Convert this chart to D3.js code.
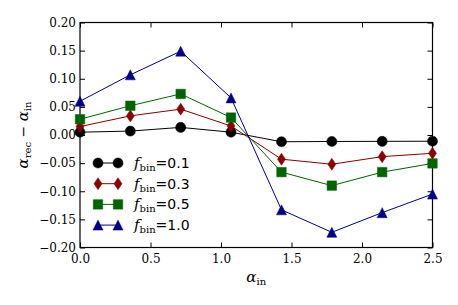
<!DOCTYPE html>
<html>
<head>
<meta charset="utf-8">
<script src="https://cdn.jsdelivr.net/npm/d3@7"></script>
<style>
  body { margin: 0; background: #fff; }
  .tick text { font-family: "DejaVu Serif", serif; font-size: 12px; fill: #000; }
</style>
</head>
<body>
<div class="canva"></div>
<script>
// data
const alphaIn = [0, 0.357, 0.714, 1.071, 1.429, 1.786, 2.143, 2.5];
const fbin01 = [0.005, 0.007, 0.0135, 0.005, -0.012, -0.0115, -0.0113, -0.011];
const fbin03 = [0.015, 0.034, 0.046, 0.016, -0.043, -0.052, -0.0385, -0.0325];
const fbin05 = [0.028, 0.052, 0.073, 0.031, -0.066, -0.090, -0.066, -0.0505];
const fbin10 = [0.060, 0.107, 0.149, 0.066, -0.133, -0.173, -0.138, -0.105];
const seriesLabels = ['0.1', '0.3', '0.5', '1.0'];
const xTicks = [0, 0.5, 1.0, 1.5, 2.0, 2.5];
const yTicks = [-0.20, -0.15, -0.10, -0.05, 0, 0.05, 0.10, 0.15, 0.20];

const series = [
  { label: seriesLabels[0], values: fbin01, color: '#000000', marker: 'circle' },
  { label: seriesLabels[1], values: fbin03, color: '#8b0000', marker: 'diamond' },
  { label: seriesLabels[2], values: fbin05, color: '#006400', marker: 'square' },
  { label: seriesLabels[3], values: fbin10, color: '#00008b', marker: 'triangle' }
];

const width = 458, height = 305;
const margin = { top: 22.5, right: 25.5, bottom: 57.5, left: 80 };
const graphWidth = width - margin.left - margin.right;
const graphHeight = height - margin.top - margin.bottom;

const svg = d3.select('.canva').append('svg')
    .attr('width', width)
    .attr('height', height);

const graph = svg.append('g')
    .attr('transform', `translate(${margin.left}, ${margin.top})`);

const x = d3.scaleLinear().domain([0, 2.5]).range([0, graphWidth]);
const y = d3.scaleLinear().domain([-0.2, 0.2]).range([graphHeight, 0]);

const fmt = d => d3.format('.1f')(d);
const fmtY = d => d3.format('.2f')(d).replace('-', '\u2212');

// axes, ticks pointing inward on all four sides
graph.append('g')
    .attr('transform', `translate(0, ${graphHeight})`)
    .call(d3.axisBottom(x).tickValues(xTicks).tickFormat(fmt).tickSizeInner(-5).tickSizeOuter(0).tickPadding(7));
graph.append('g')
    .call(d3.axisTop(x).tickValues(xTicks).tickFormat('').tickSizeInner(-5).tickSizeOuter(0));
graph.append('g')
    .call(d3.axisLeft(y).tickValues(yTicks).tickFormat(fmtY).tickSizeInner(-5).tickSizeOuter(0).tickPadding(4));
graph.append('g')
    .attr('transform', `translate(${graphWidth}, 0)`)
    .call(d3.axisRight(y).tickValues(yTicks).tickFormat('').tickSizeInner(-5).tickSizeOuter(0));

graph.selectAll('.domain').remove();
graph.selectAll('.tick line').attr('stroke', '#000').attr('stroke-width', 1);

graph.append('rect')
    .attr('width', graphWidth)
    .attr('height', graphHeight)
    .attr('fill', 'none')
    .attr('stroke', '#000')
    .attr('stroke-width', 1.2);

// marker shapes (matplotlib-like)
const thinDiamond = { draw(ctx) { ctx.moveTo(0, -6); ctx.lineTo(4, 0); ctx.lineTo(0, 6); ctx.lineTo(-4, 0); ctx.closePath(); } };
const upTriangle = { draw(ctx) { ctx.moveTo(0, -5); ctx.lineTo(5, 5); ctx.lineTo(-5, 5); ctx.closePath(); } };
const symbols = {
  circle: d3.symbol().type(d3.symbolCircle).size(80),
  square: d3.symbol().type(d3.symbolSquare).size(90),
  triangle: d3.symbol().type(upTriangle),
  diamond: d3.symbol().type(thinDiamond)
};

const line = d3.line()
    .x((d, i) => x(alphaIn[i]))
    .y(d => y(d));

const plot = graph.append('g');
series.forEach(s => {
  plot.append('path')
      .datum(s.values)
      .attr('d', line)
      .attr('fill', 'none')
      .attr('stroke', s.color)
      .attr('stroke-width', 1);
});
series.forEach(s => {
  plot.selectAll(null)
      .data(s.values)
      .enter().append('path')
      .attr('d', symbols[s.marker])
      .attr('transform', (d, i) => `translate(${x(alphaIn[i])},${y(d)})`)
      .attr('fill', s.color)
      .attr('stroke', s.color)
      .attr('stroke-width', 0.5);
});

// legend
const legend = graph.append('g').attr('transform', 'translate(18, 140.5)');
series.forEach((s, i) => {
  const row = legend.append('g').attr('transform', `translate(0, ${i * 20.7})`);
  row.append('line').attr('x1', 0).attr('x2', 20).attr('stroke', s.color).attr('stroke-width', 1);
  [0, 20].forEach(px => {
    row.append('path')
        .attr('d', symbols[s.marker])
        .attr('transform', `translate(${px},0)`)
        .attr('fill', s.color)
        .attr('stroke', s.color)
        .attr('stroke-width', 0.5);
  });
  const t = row.append('text').attr('x', 36).attr('y', 5);
  t.append('tspan').attr('font-family', 'DejaVu Serif').attr('font-style', 'italic').attr('font-size', 15).text('f');
  t.append('tspan').attr('font-family', 'DejaVu Serif').attr('font-size', 10).attr('dy', 3).text('bin');
  t.append('tspan').attr('font-family', 'DejaVu Sans').attr('font-size', 14).attr('dy', -3).text('=' + s.label);
});

// axis labels
const xl = svg.append('text')
    .attr('x', margin.left + graphWidth / 2)
    .attr('y', 282)
    .attr('text-anchor', 'middle')
    .attr('font-family', 'DejaVu Serif');
xl.append('tspan').attr('font-style', 'italic').attr('font-size', 15).text('α');
xl.append('tspan').attr('font-size', 10).attr('dy', 3).text('in');

const yl = svg.append('text')
    .attr('transform', `translate(28, ${margin.top + graphHeight / 2}) rotate(-90)`)
    .attr('text-anchor', 'middle')
    .attr('font-family', 'DejaVu Serif');
yl.append('tspan').attr('font-style', 'italic').attr('font-size', 15).text('α');
yl.append('tspan').attr('font-size', 10).attr('dy', 3).text('rec');
yl.append('tspan').attr('font-size', 14).attr('dy', -3).text(' \u2212 ');
yl.append('tspan').attr('font-style', 'italic').attr('font-size', 15).text('α');
yl.append('tspan').attr('font-size', 10).attr('dy', 3).text('in');
</script>
</body>
</html>
